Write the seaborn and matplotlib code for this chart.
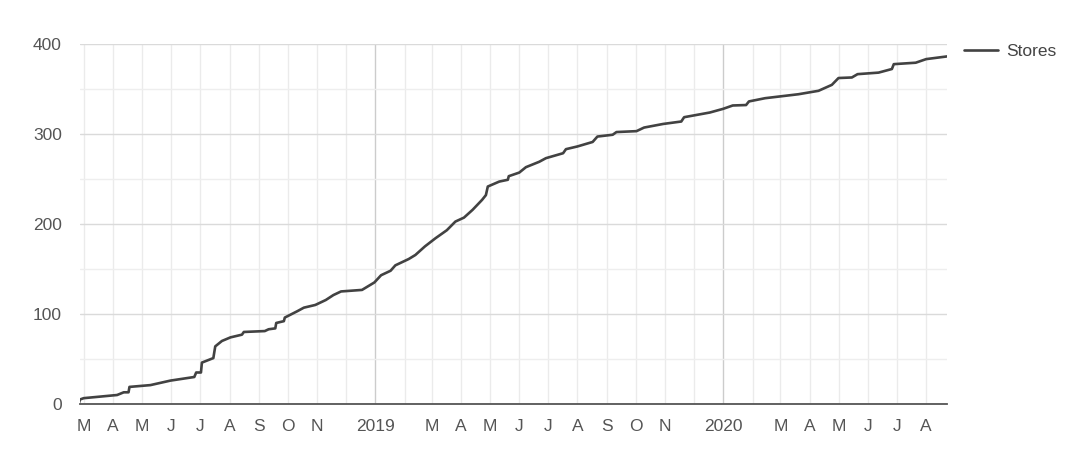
import seaborn as sns
import matplotlib.pyplot as plt
import pandas as pd
import numpy as np
import matplotlib
matplotlib.use('Agg')

# cumulative store count
dates = ['2018-02-24', '2018-02-25', '2018-03-01', '2018-04-05', '2018-04-12', '2018-04-17', '2018-04-18',
         '2018-05-10', '2018-05-31', '2018-06-25', '2018-06-27', '2018-07-02', '2018-07-03', '2018-07-15',
         '2018-07-17', '2018-07-24', '2018-08-02', '2018-08-14', '2018-08-16', '2018-09-07', '2018-09-11',
         '2018-09-18', '2018-09-19', '2018-09-27', '2018-09-28', '2018-10-11', '2018-10-18', '2018-10-30',
         '2018-11-10', '2018-11-18', '2018-11-26', '2018-12-18', '2018-12-31', '2019-01-07', '2019-01-17',
         '2019-01-22', '2019-02-05', '2019-02-12', '2019-02-22', '2019-03-05', '2019-03-17', '2019-03-26',
         '2019-04-04', '2019-04-13', '2019-04-23', '2019-04-27', '2019-04-29', '2019-05-11', '2019-05-20',
         '2019-05-21', '2019-06-01', '2019-06-08', '2019-06-22', '2019-06-29', '2019-07-17', '2019-07-20',
         '2019-08-01', '2019-08-17', '2019-08-22', '2019-09-07', '2019-09-11', '2019-10-02', '2019-10-10',
         '2019-10-30', '2019-11-18', '2019-11-21', '2019-12-04', '2019-12-18', '2020-01-01', '2020-01-11',
         '2020-01-25', '2020-01-28', '2020-02-14', '2020-03-20', '2020-04-10', '2020-04-24', '2020-05-01',
         '2020-05-15', '2020-05-21', '2020-06-12', '2020-06-26', '2020-06-28', '2020-07-21', '2020-08-01',
         '2020-08-23']
stores = [1, 5, 6.5, 10, 13, 13, 19,
          21, 26, 30, 35, 35, 46, 51,
          64, 70, 74, 77, 80, 81, 83,
          84, 90, 92, 96, 103, 107, 110,
          115.5, 121, 125, 126.7, 135, 143, 148,
          154, 161, 165.5, 175, 184, 193, 202.6,
          207, 215.6, 226.7, 232, 241.5, 247, 249,
          253, 257, 263, 269, 273, 278.5, 283,
          286, 291, 297, 299, 302, 303, 307,
          311, 313.7, 318.5, 321, 323.7, 327.8, 331.5,
          332, 336, 339.6, 344, 347.8, 354.4, 362,
          362.6, 366.3, 368, 372, 377.4, 379, 383,
          386]

month_ticks = pd.date_range('2018-03-01', '2020-08-01', freq='MS')
month_labels = ['M', 'A', 'M', 'J', 'J', 'A', 'S', 'O', 'N', '', '2019', '',
                'M', 'A', 'M', 'J', 'J', 'A', 'S', 'O', 'N', '', '2020', '',
                'M', 'A', 'M', 'J', 'J', 'A']

df = pd.DataFrame({'Date': pd.to_datetime(dates), 'Stores': stores})

sns.set_style('white')
plt.rcParams['font.family'] = ['Liberation Sans', 'DejaVu Sans']

fig = plt.figure(figsize=(10.8, 4.63), dpi=100)
ax = fig.add_axes([0.074, 0.1274, 0.803, 0.778])

sns.lineplot(data=df, x='Date', y='Stores', ax=ax, color='#424242', lw=1.9, label='Stores')

ax.set_xlim(pd.Timestamp('2018-02-25'), pd.Timestamp('2020-08-23'))
ax.set_ylim(0, 400)
ax.set_yticks([0, 100, 200, 300, 400])
ax.set_yticks([50, 150, 250, 350], minor=True)
ax.set_xticks(month_ticks)
ax.set_xticklabels(month_labels)

ax.grid(True, which='major', axis='y', color='#dadada', lw=1)
ax.grid(True, which='minor', axis='y', color='#eeeeee', lw=1)
ax.grid(True, which='major', axis='x', color='#ebebeb', lw=1)
for d, gl in zip(month_ticks, ax.get_xgridlines()):
    if d.month == 1:
        gl.set_color('#cccccc')
ax.set_axisbelow(True)

for s in ['top', 'right', 'left']:
    ax.spines[s].set_visible(False)
ax.spines['bottom'].set_color('#555555')
ax.spines['bottom'].set_linewidth(1.3)

ax.tick_params(axis='both', which='both', length=0, labelsize=12.5, labelcolor='#555555')
ax.tick_params(axis='x', pad=11)
ax.tick_params(axis='y', pad=13)
ax.set_xlabel('')
ax.set_ylabel('')

leg = ax.legend(loc='center left', bbox_to_anchor=(0.8926, 0.888), bbox_transform=fig.transFigure,
                frameon=False, fontsize=12.5, handlelength=1.96, handletextpad=0.46,
                borderpad=0, borderaxespad=0)
for t in leg.get_texts():
    t.set_color('#444444')

fig.savefig('out.png', dpi=100)
